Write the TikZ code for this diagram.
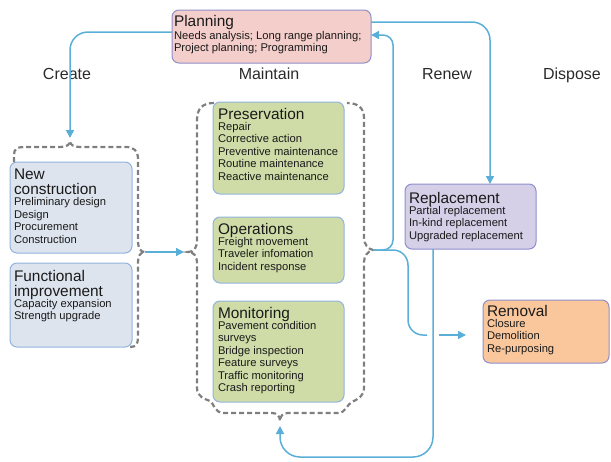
\documentclass[tikz,border=0pt]{standalone}
\usepackage{fontspec}
\setmainfont{Liberation Sans}
\usetikzlibrary{arrows.meta,calc}
\definecolor{cnc}{HTML}{5AAFD9}
\definecolor{dashc}{HTML}{7F7F7F}
\definecolor{pinkf}{HTML}{F4CECA}
\definecolor{purpb}{HTML}{8F8FCB}
\definecolor{bluef}{HTML}{DDE4EE}
\definecolor{blueb}{HTML}{93B3DE}
\definecolor{greenf}{HTML}{CFDCA8}
\definecolor{lavf}{HTML}{D5CFE8}
\definecolor{orangef}{HTML}{FAC79D}
\definecolor{txtc}{HTML}{1A1A1A}
\definecolor{hdrc}{HTML}{2A2A2A}
\newcommand\ttl[1]{{\fontsize{15.4}{15.5}\selectfont #1}}
\tikzset{
  box/.style={draw, rounded corners=7pt, line width=1pt, anchor=north west, inner sep=0pt, outer sep=0pt},
  txt/.style={anchor=north west, inner sep=0pt, outer sep=0pt, align=left, text=txtc, font=\fontsize{11.2}{12.4}\selectfont},
  hdr/.style={anchor=base, inner sep=0pt, text=hdrc, font=\fontsize{16}{18}\selectfont},
  cn/.style={draw=cnc, line width=1.5pt, -{Triangle[length=8pt,width=8pt]}},
  cnl/.style={draw=cnc, line width=1.5pt},
  brace/.style={draw=dashc, line width=2.2pt, dash pattern=on 5pt off 3pt}
}
\begin{document}
\begin{tikzpicture}[x=1pt,y=-1pt]
\useasboundingbox (0,0) rectangle (611,461);
% headers
\node[hdr] (hcreate) at (67,79.5) {Create};
\node[hdr] (hmaint) at (269,79.5) {Maintain};
\node[hdr] (hrenew) at (447,79.5) {Renew};
\node[hdr] (hdisp) at (572,79.5) {Dispose};
% boxes
\node[box, fill=pinkf, draw=purpb, minimum width=199pt, minimum height=53pt] (plan) at (172,10) {};
\node[box, fill=bluef, draw=blueb, minimum width=122pt, minimum height=91pt] (newc) at (10,162) {};
\node[box, fill=bluef, draw=blueb, minimum width=122pt, minimum height=84pt] (func) at (10,263) {};
\node[box, fill=greenf, draw=blueb, minimum width=131pt, minimum height=92pt] (pres) at (213,102) {};
\node[box, fill=greenf, draw=blueb, minimum width=131pt, minimum height=66pt] (oper) at (213,217) {};
\node[box, fill=greenf, draw=blueb, minimum width=131pt, minimum height=101pt] (moni) at (213,301) {};
\node[box, fill=lavf, draw=purpb, minimum width=131pt, minimum height=65pt] (repl) at (405,184) {};
\node[box, fill=orangef, draw=purpb, minimum width=126pt, minimum height=63pt] (remo) at (483,300) {};
% texts
\node[txt] (plant) at (174,15) {\ttl{Planning}\\[0.5pt] Needs analysis; Long range planning;\\ Project planning; Programming};
\node[txt] (newct) at (14,169) {\ttl{New}\\[2.6pt]\ttl{construction}\\[-1pt] Preliminary design\\ Design\\ Procurement\\ Construction};
\node[txt] (funct) at (14,270) {\ttl{Functional}\\[2.6pt]\ttl{improvement}\\[-1pt] Capacity expansion\\ Strength upgrade};
\node[txt] (prest) at (218,108) {\ttl{Preservation}\\[-1pt] Repair\\ Corrective action\\ Preventive maintenance\\ Routine maintenance\\ Reactive maintenance};
\node[txt] (opert) at (218,223) {\ttl{Operations}\\[-1pt] Freight movement\\ Traveler infomation\\ Incident response};
\node[txt] (monit) at (218,307) {\ttl{Monitoring}\\[-1pt] Pavement condition\\ surveys\\ Bridge inspection\\ Feature surveys\\ Traffic monitoring\\ Crash reporting};
\node[txt] (replt) at (409,192) {\ttl{Replacement}\\[-1pt] Partial replacement\\ In-kind replacement\\ Upgraded replacement};
\node[txt] (remot) at (487,305) {\ttl{Removal}\\[-1pt] Closure\\ Demolition\\ Re-purposing};
% braces
\draw[brace] (14,162) -- (14,155) .. controls (14,149) and (17,147) .. (24,147) -- (60,147)
  .. controls (66,147) and (70,145) .. (70,141) .. controls (70,145) and (74,147) .. (80,147)
  -- (126,147) .. controls (134,147) and (138,151) .. (138,159) -- (138,240)
  .. controls (138,248) and (140,252) .. (145,252) .. controls (140,252) and (138,256) .. (138,264)
  -- (138,337) .. controls (138,344) and (136,347) .. (130,347);
\draw[brace] (214,103) .. controls (203,103) and (197,108) .. (197,120) -- (197,240)
  .. controls (197,248) and (194,252) .. (188,252) .. controls (194,252) and (197,256) .. (197,264)
  -- (197,388) .. controls (197,397) and (205,399) .. (210,401) .. controls (214,403) and (214,413) .. (224,413)
  -- (272,413) .. controls (277,413) and (280,416) .. (280,421) .. controls (280,416) and (283,413) .. (288,413)
  -- (338,413) .. controls (346,413) and (347,404) .. (352,402) .. controls (358,399) and (364,396) .. (364,388)
  -- (364,262) .. controls (364,256) and (368,251) .. (373,250) .. controls (368,249) and (364,244) .. (364,238)
  -- (364,118) .. controls (364,108) and (358,103) .. (347,103);
% coordinates
\coordinate (ctop) at (70,138);
\coordinate (ccusp) at (145,252);
\coordinate (mleft) at (184,252);
\coordinate (mright) at (373,250);
\coordinate (mbot) at (280,426);
\coordinate (bot) at (280,457);
\coordinate (rcorner) at (408,335);
\coordinate (gapl) at (427,335);
\coordinate (gapr) at (439,335);
\coordinate (remarrow) at (466,335);
% connectors
\draw[cn, rounded corners=18pt] ([yshift=4.5pt]plan.west) -| (ctop);
\draw[cn, rounded corners=18pt] ([yshift=14.5pt]plan.east) -| ([xshift=19.5pt]repl.north);
\draw[cn, rounded corners=10pt] (mright) -| ([xshift=22pt,yshift=1.5pt]plan.east) -- ([yshift=1.5pt]plan.east);
\draw[cnl, rounded corners=15pt] (mright) -| (rcorner) -- (gapl);
\draw[cn] (gapr) -- (remarrow);
\draw[cn, rounded corners=20pt] ([xshift=-37.5pt]repl.south) |- (bot) -- (mbot);
\draw[cn] (ccusp) -- (mleft);
\end{tikzpicture}
\end{document}
